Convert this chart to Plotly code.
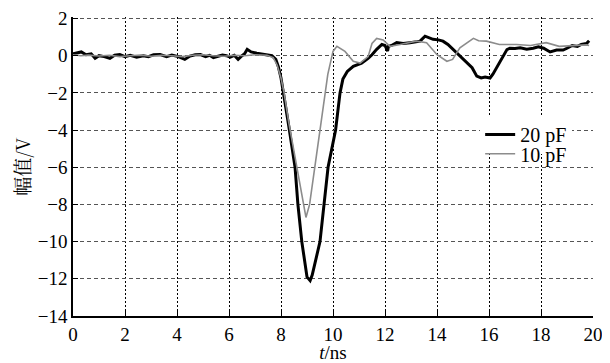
import plotly.graph_objects as go

# 20 pF series (black)
t_20 = [0.0, 0.15, 0.32, 0.5, 0.7, 0.85, 1.0, 1.2, 1.42, 1.6, 1.8, 2.0, 2.2, 2.45, 2.7, 2.9, 3.1, 3.35, 3.6, 3.8, 4.05, 4.3, 4.5, 4.7, 4.9, 5.1, 5.25, 5.4, 5.6, 5.75, 5.9, 6.05, 6.2, 6.35, 6.5, 6.6, 6.7, 6.85, 7.07, 7.3, 7.46, 7.65, 7.8, 7.9, 8.0, 8.1, 8.3, 8.54, 8.65, 8.8, 9.0, 9.12, 9.2, 9.5, 9.65, 9.81, 10.1, 10.27, 10.38, 10.55, 10.78, 10.95, 11.1, 11.35, 11.5, 11.68, 11.88, 12.0, 12.1, 12.13, 12.25, 12.45, 12.7, 12.96, 13.15, 13.35, 13.54, 13.7, 13.85, 14.05, 14.23, 14.42, 14.56, 14.7, 14.88, 15.08, 15.35, 15.53, 15.7, 15.85, 16.04, 16.15, 16.42, 16.69, 16.8, 17.0, 17.2, 17.45, 17.7, 17.9, 18.1, 18.35, 18.6, 18.85, 19.0, 19.2, 19.4, 19.55, 19.75, 19.85]
v_20 = [0.1, 0.13, 0.2, 0.05, 0.1, -0.14, 0.0, -0.05, -0.14, 0.02, 0.06, -0.05, 0.02, -0.08, 0.0, -0.05, 0.05, 0.06, -0.05, 0.03, -0.05, -0.2, -0.02, 0.05, 0.06, -0.05, 0.02, -0.1, -0.02, 0.03, 0.0, -0.08, 0.02, -0.2, 0.0, 0.1, 0.34, 0.2, 0.13, 0.08, 0.06, 0.0, -0.2, -0.6, -1.2, -2.0, -3.8, -6.0, -8.0, -10.0, -11.9, -12.1, -11.8, -10.0, -8.0, -6.0, -4.0, -2.0, -1.26, -0.85, -0.57, -0.5, -0.4, -0.14, 0.05, 0.34, 0.6, 0.55, 0.25, 0.5, 0.55, 0.7, 0.65, 0.7, 0.72, 0.78, 1.05, 0.95, 0.88, 0.85, 0.78, 0.6, 0.42, 0.2, -0.03, -0.3, -0.65, -1.1, -1.2, -1.15, -1.2, -1.0, -0.3, 0.33, 0.4, 0.38, 0.42, 0.35, 0.4, 0.48, 0.4, 0.2, 0.3, 0.3, 0.4, 0.55, 0.5, 0.6, 0.65, 0.8]

# 10 pF series (gray)
t_10 = [0.0, 0.3, 0.6, 1.0, 1.4, 1.8, 2.2, 2.6, 3.0, 3.4, 3.8, 4.2, 4.6, 5.0, 5.4, 5.8, 6.2, 6.6, 7.0, 7.46, 7.7, 7.85, 8.0, 8.12, 8.3, 8.5, 8.65, 8.85, 8.96, 9.1, 9.3, 9.5, 9.69, 9.8, 10.0, 10.15, 10.46, 10.78, 11.04, 11.35, 11.5, 11.68, 11.93, 12.19, 12.58, 12.9, 13.2, 13.6, 14.0, 14.38, 14.6, 14.88, 15.15, 15.4, 15.6, 15.9, 16.4, 17.06, 17.6, 18.2, 18.7, 19.2, 19.75, 19.85]
v_10 = [0.05, 0.0, 0.03, -0.02, 0.02, -0.05, 0.0, 0.03, -0.03, 0.02, 0.0, -0.05, 0.02, 0.05, 0.0, -0.03, 0.02, 0.0, 0.05, 0.02, -0.1, -0.5, -1.2, -2.0, -3.6, -5.2, -6.2, -8.0, -8.7, -8.0, -6.0, -4.0, -2.0, -1.0, 0.23, 0.5, 0.23, -0.3, -0.4, -0.05, 0.66, 0.93, 0.85, 0.5, 0.6, 0.7, 0.78, 0.7, 0.05, -0.3, -0.2, 0.42, 0.7, 0.93, 0.8, 0.78, 0.6, 0.6, 0.55, 0.7, 0.5, 0.55, 0.58, 0.55]

x_ticks = [0, 2, 4, 6, 8, 10, 12, 14, 16, 18, 20]
y_ticks = [-14, -12, -10, -8, -6, -4, -2, 0, 2]

SERIF = "Liberation Serif"
tickfont = dict(family=SERIF, size=19, color="black")
legfont = dict(family=SERIF, size=20, color="black")

fig = go.Figure()
fig.add_trace(go.Scatter(x=t_20, y=v_20, mode="lines", name="20 pF", legend="legend",
                         line=dict(color="black", width=3)))
fig.add_trace(go.Scatter(x=t_10, y=v_10, mode="lines", name="10 pF", legend="legend2",
                         line=dict(color="#8c8c8c", width=1.6)))

fig.update_layout(
    template="none",
    width=602, height=355,
    margin=dict(l=65, r=17, t=9, b=47),
    paper_bgcolor="white", plot_bgcolor="white",
    font=dict(family=SERIF, size=19, color="black"),
    showlegend=True,
    legend=dict(x=0.783, y=0.672, xanchor="left", yanchor="top",
                bgcolor="white", borderwidth=0, font=legfont),
    legend2=dict(x=0.783, y=0.608, xanchor="left", yanchor="top",
                 bgcolor="rgba(0,0,0,0)", borderwidth=0, font=legfont),
    xaxis=dict(range=[0, 20], tickvals=x_ticks, ticktext=[str(v) for v in x_ticks],
               tickfont=tickfont, ticklabeloverflow="allow",
               showline=True, linecolor="black", linewidth=1.5, mirror=False,
               ticks="inside", ticklen=5, tickcolor="black",
               showgrid=True, gridcolor="black", gridwidth=1, griddash="2px,2px",
               zeroline=False,
               title=dict(text="<i>t</i>/ns", standoff=8,
                          font=dict(family=SERIF, size=19, color="black"))),
    yaxis=dict(range=[-14, 2.08], tickvals=y_ticks,
               ticktext=[str(v).replace("-", "\u2212") for v in y_ticks],
               tickfont=tickfont, ticklabeloverflow="allow",
               showline=True, linecolor="black", linewidth=1.5, mirror=False,
               ticks="inside", ticklen=5, tickcolor="black",
               showgrid=True, gridcolor="#555555", gridwidth=1, griddash="4px,3px",
               zeroline=False,
               title=dict(text="幅值/V", standoff=5,
                          font=dict(size=19, family="Noto Serif CJK SC, Liberation Serif", color="black"))),
)

fig.write_html("out.html")
